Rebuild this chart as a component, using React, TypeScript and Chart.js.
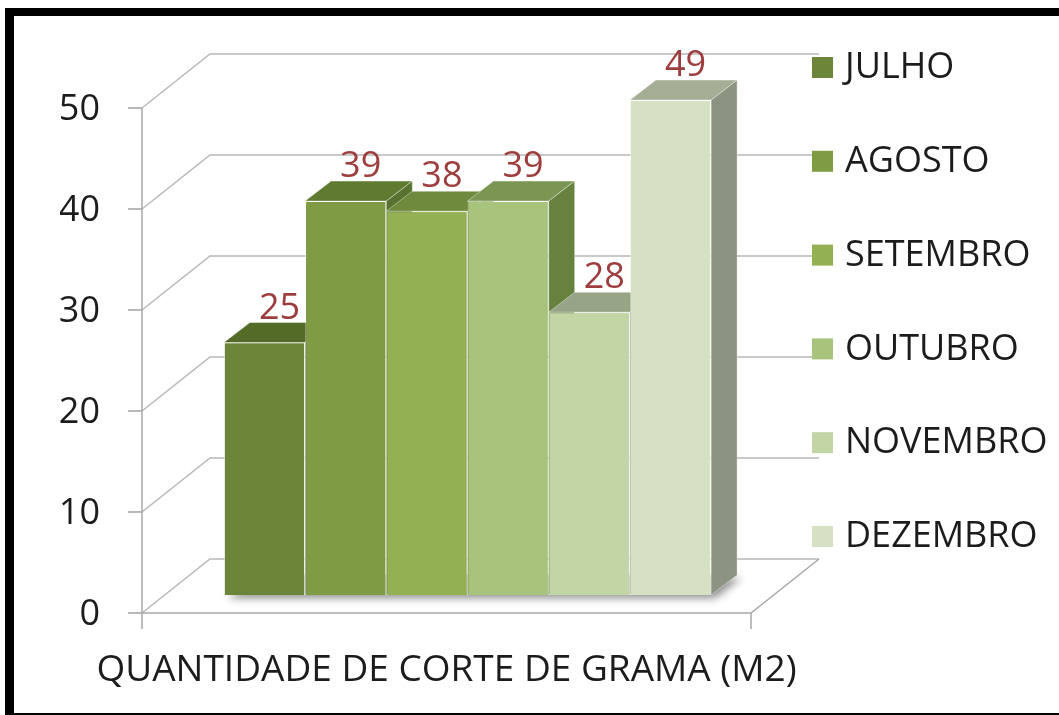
import { useEffect, useRef } from 'react';
import { Chart, registerables } from 'chart.js';

Chart.register(...registerables);

const categories = ['QUANTIDADE DE CORTE DE GRAMA (M2)'];
const seriesNames = ['JULHO', 'AGOSTO', 'SETEMBRO', 'OUTUBRO', 'NOVEMBRO', 'DEZEMBRO'];
const seriesValues = [25, 39, 38, 39, 28, 49];
const yTicks = [0, 10, 20, 30, 40, 50];

const frontColors = ['#6c8538', '#7f9c45', '#93b153', '#a8c47c', '#c3d4a5', '#d6e1c4'];
const topColors = ['#536b27', '#5f7b30', '#6f8a3c', '#7b9653', '#97a586', '#a3ae94'];
const sideColors = ['#4f6624', '#587330', '#667f38', '#67813f', '#848f77', '#8a9480'];

const FONT = '"Open Sans", "DejaVu Sans", sans-serif';

// 3D geometry (pixel offsets of planes relative to the bar plane)
const FRONT_DX = -21, FRONT_DY = 18;
const BACK_DX = 47, BACK_DY = -36;
const BAR_DX = 26, BAR_DY = -20;

const decorPlugin = {
  id: 'decor3d',
  beforeDraw(chart: any) {
    const { ctx, width, height } = chart;
    ctx.save();
    ctx.fillStyle = '#ffffff';
    ctx.fillRect(0, 0, width, height);
    ctx.fillStyle = '#000000';
    ctx.fillRect(5, 8, width - 5, 8);
    ctx.fillRect(5, 8, 9, height - 8);
    ctx.fillRect(5, height - 2, width - 5, 2);
    ctx.restore();
  },
  beforeDatasetsDraw(chart: any) {
    const { ctx } = chart;
    const xs = chart.scales.x;
    const ys = chart.scales.y;
    const L = xs.left, R = xs.right;
    ctx.save();
    ctx.lineCap = 'butt';
    yTicks.forEach((v) => {
      const y = ys.getPixelForValue(v);
      ctx.strokeStyle = '#b8b8b8';
      ctx.lineWidth = 1.5;
      ctx.beginPath();
      ctx.moveTo(L + FRONT_DX, y + FRONT_DY);
      ctx.lineTo(L + BACK_DX, y + BACK_DY);
      ctx.lineTo(R + BACK_DX, y + BACK_DY);
      ctx.stroke();
      ctx.strokeStyle = '#a0a0a0';
      ctx.beginPath();
      ctx.moveTo(L + FRONT_DX - 14, y + FRONT_DY);
      ctx.lineTo(L + FRONT_DX, y + FRONT_DY);
      ctx.stroke();
    });
    const y0 = ys.getPixelForValue(0);
    const yTop = ys.getPixelForValue(yTicks[yTicks.length - 1]);
    ctx.strokeStyle = '#a8a8a8';
    ctx.lineWidth = 1.5;
    ctx.beginPath();
    ctx.moveTo(L + FRONT_DX, y0 + FRONT_DY);
    ctx.lineTo(R + FRONT_DX, y0 + FRONT_DY);
    ctx.lineTo(R + BACK_DX, y0 + BACK_DY);
    ctx.moveTo(L + FRONT_DX, yTop + FRONT_DY);
    ctx.lineTo(L + FRONT_DX, y0 + FRONT_DY + 16);
    ctx.moveTo(R + FRONT_DX, y0 + FRONT_DY);
    ctx.lineTo(R + FRONT_DX, y0 + FRONT_DY + 16);
    ctx.stroke();

    const first = chart.getDatasetMeta(0).data[0] as any;
    const last = chart.getDatasetMeta(seriesValues.length - 1).data[0] as any;
    if (first && last) {
      const l = first.x - first.width / 2;
      const r = last.x + last.width / 2;
      const b = first.base;
      ctx.save();
      ctx.shadowColor = 'rgba(0,0,0,0.45)';
      ctx.shadowBlur = 8;
      ctx.shadowOffsetX = 4;
      ctx.shadowOffsetY = 3;
      ctx.fillStyle = '#9aa090';
      ctx.beginPath();
      ctx.moveTo(l, b);
      ctx.lineTo(r, b);
      ctx.lineTo(r + BAR_DX, b + BAR_DY);
      ctx.lineTo(l + BAR_DX, b + BAR_DY);
      ctx.closePath();
      ctx.fill();
      ctx.restore();
    }
    ctx.restore();
  },
  afterDatasetsDraw(chart: any) {
    const { ctx } = chart;
    ctx.save();
    const n = chart.data.datasets.length;
    for (let i = 0; i < n; i++) {
      const el = chart.getDatasetMeta(i).data[0] as any;
      if (!el) continue;
      const { x, y, base, width } = el.getProps(['x', 'y', 'base', 'width'], true);
      const l = x - width / 2;
      const r = x + width / 2;
      el.draw(ctx);
      ctx.fillStyle = topColors[i];
      ctx.strokeStyle = 'rgba(255,255,255,0.4)';
      ctx.lineWidth = 1;
      ctx.beginPath();
      ctx.moveTo(l, y);
      ctx.lineTo(r, y);
      ctx.lineTo(r + BAR_DX, y + BAR_DY);
      ctx.lineTo(l + BAR_DX, y + BAR_DY);
      ctx.closePath();
      ctx.fill();
      ctx.stroke();
      ctx.fillStyle = sideColors[i];
      ctx.beginPath();
      ctx.moveTo(r, y);
      ctx.lineTo(r + BAR_DX, y + BAR_DY);
      ctx.lineTo(r + BAR_DX, base + BAR_DY);
      ctx.lineTo(r, base);
      ctx.closePath();
      ctx.fill();
      ctx.stroke();
    }
    ctx.fillStyle = '#9e3d3d';
    ctx.font = `36px ${FONT}`;
    ctx.textAlign = 'center';
    ctx.textBaseline = 'middle';
    for (let i = 0; i < n; i++) {
      const el = chart.getDatasetMeta(i).data[0] as any;
      if (!el) continue;
      const v = chart.data.datasets[i].data[0];
      ctx.fillText(String(v), el.x + 15, el.y - 34);
    }
    ctx.restore();
  },
  afterDraw(chart: any) {
    const { ctx } = chart;
    ctx.save();
    ctx.font = `36px ${FONT}`;
    ctx.textAlign = 'left';
    ctx.textBaseline = 'middle';
    chart.data.datasets.forEach((ds: any, i: number) => {
      const cy = 68 + i * 93.8;
      ctx.fillStyle = ds.backgroundColor;
      ctx.fillRect(812, cy - 11, 21, 21);
      ctx.fillStyle = '#1c1c1c';
      ctx.fillText(ds.label, 845, cy);
    });
    ctx.restore();
  },
};

export default function App() {
  const canvasRef = useRef<HTMLCanvasElement | null>(null);

  useEffect(() => {
    const canvas = canvasRef.current;
    if (!canvas) return;
    const chart = new Chart(canvas, {
      type: 'bar',
      data: {
        labels: categories,
        datasets: seriesNames.map((name, i) => ({
          label: name,
          data: [seriesValues[i]],
          backgroundColor: frontColors[i],
          borderColor: 'rgba(255,255,255,0.4)',
          borderWidth: 1,
          categoryPercentage: 0.8,
          barPercentage: 1.0,
        })),
      },
      options: {
        responsive: false,
        animation: false,
        devicePixelRatio: 1,
        layout: { padding: { left: 60, right: 287, top: 90, bottom: 20 } },
        plugins: {
          legend: { display: false },
          tooltip: { enabled: false },
          title: { display: false },
        },
        scales: {
          x: {
            grid: { display: false, drawTicks: false },
            border: { display: false },
            ticks: {
              padding: 53,
              labelOffset: -21,
              maxRotation: 0,
              minRotation: 0,
              autoSkip: false,
              color: '#1c1c1c',
              font: { family: FONT, size: 37 },
            },
            afterFit: (s: any) => {
              s.height = 100;
              s.paddingLeft = 0;
              s.paddingRight = 0;
            },
          },
          y: {
            min: 0,
            max: 50,
            grid: { display: false, drawTicks: false },
            border: { display: false },
            afterBuildTicks: (s: any) => {
              s.ticks = yTicks.map((v) => ({ value: v }));
            },
            ticks: {
              padding: 63,
              labelOffset: 20,
              color: '#1c1c1c',
              font: { family: FONT, size: 36 },
            },
            afterFit: (s: any) => {
              s.width = 103;
              s.paddingTop = 0;
              s.paddingBottom = 0;
            },
          },
        },
      },
      plugins: [decorPlugin],
    });
    return () => chart.destroy();
  }, []);

  return (
    <div style={{ position: 'fixed', left: 0, top: 0, width: 1059, height: 715, overflow: 'hidden', background: '#fff' }}>
      <canvas ref={canvasRef} width={1059} height={715} style={{ display: 'block' }} />
    </div>
  );
}
